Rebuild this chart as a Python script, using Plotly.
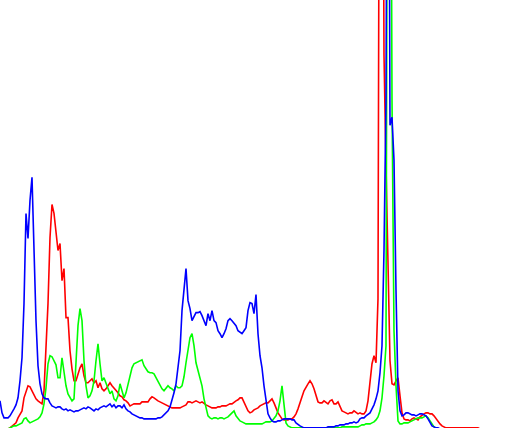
import plotly.graph_objects as go

bins = list(range(256))

red = ([0]*5 + [1, 3, 4, 6, 11, 15, 18, 31, 38, 43, 42, 38, 33, 30, 28, 26, 25, 38, 78, 125,
        191, 224, 215, 196, 178, 185, 148, 160, 111, 111, 78, 60, 48, 48, 56, 61, 65, 53, 46, 46,
        48, 50, 46, 48, 41, 46, 40, 38, 40, 43, 46, 43, 41, 38, 36, 33, 32, 29, 28, 26,
        23, 24, 25, 25, 25, 25, 27, 27, 27, 27, 30, 32, 31, 29, 28, 27, 26, 25, 24, 23,
        22] + [21]*5 + [22, 23, 24, 27, 27, 26, 27, 28, 27, 26, 27, 25, 24, 23, 22, 21, 21, 21, 22,
        22, 23, 23, 23, 24, 25, 25, 27, 28, 29, 31, 31, 27, 22, 18, 16, 17, 19, 20, 21,
        23, 24, 25, 26, 26, 28, 30, 26, 20, 16, 13, 10, 9, 9, 9, 10, 10, 12, 15, 20,
        25, 32, 38, 42, 45, 48, 45, 40, 32, 27, 26, 26, 28, 26, 25, 28, 29, 25, 25, 27,
        23, 18, 17, 16, 15, 16, 16, 18, 16, 15, 16, 15, 15, 18, 28, 45, 65, 73, 66, 130,
        900, 900, 373, 263, 153, 68, 45, 44, 48, 51, 33, 16, 10, 9, 9, 8, 10, 11, 10, 9,
        12, 14, 15, 16, 16, 15, 15, 13, 10, 7, 5, 3, 2] + [1]*17 + [0]*16)

green = ([0]*5 + [1, 2, 3, 3, 4, 5, 6, 10, 11, 8, 6, 7, 8, 9, 10, 12, 16, 25, 41, 65,
          73, 72, 68, 64, 51, 51, 71, 55, 43, 35, 31, 28, 30, 68, 103, 120, 108, 68, 43, 31,
          33, 38, 48, 68, 85, 65, 48, 51, 46, 41, 35, 38, 30, 28, 33, 45, 38, 31, 36, 45,
          53, 61, 65, 66, 67, 68, 69, 63, 60, 57, 56, 56, 55, 51, 48, 43, 40, 38, 41, 43,
          41, 40, 38, 43, 41, 41, 43, 52, 66, 78, 91, 95, 83, 66, 58, 53, 43, 30, 20, 13,
          11, 10, 11, 11, 10, 11, 11, 10, 11, 12, 14, 16, 18, 13, 10, 8, 7, 6] + [5]*9 +
         [6, 7, 7, 7, 8, 10, 13, 18, 28, 43, 23, 6, 3, 2] + [1]*25 + [2]*9 +
         [3, 4, 4, 5, 5, 5, 6, 7, 9, 12, 18, 31, 53, 83, 900, 900, 328, 98, 43, 8,
          5, 5, 6, 6, 6, 7, 8, 9, 10, 11, 11, 11, 12, 13, 11, 8, 5, 2, 1] + [0]*37)

blue = ([28, 16, 11, 11, 11, 13, 16, 20, 24, 31, 48, 71, 125, 215, 190, 228, 251, 178, 108, 63,
         45, 35, 31, 30, 30, 26, 23, 22, 21, 22, 22, 20, 19, 20, 18, 19, 18, 17, 18, 18,
         19, 20, 21, 20, 22, 21, 19, 18, 20, 19, 21, 22, 23, 22, 24, 25, 22, 24, 21, 23,
         23, 21, 24, 20, 18, 17, 15, 14, 13, 12, 11, 11] + [10]*7 +
        [11, 11, 12, 14, 16, 18, 22, 28, 36, 45, 63, 78, 118, 143, 160, 128, 120, 108, 112, 116,
         116, 117, 113, 108, 103, 115, 108, 118, 108, 106, 98, 95, 91, 95, 100, 108, 110, 108, 106, 103,
         98, 96, 95, 98, 101, 118, 126, 125, 115, 134, 95, 73, 61, 43, 28, 15, 11, 8, 7, 7,
         8, 8, 9, 10, 10, 10, 10, 9, 9, 6, 4, 3, 2] + [1]*12 + [2]*4 +
        [3, 3, 4, 4, 4, 5, 5, 6, 6, 7, 6, 7, 10, 11, 11, 13, 15, 16, 20, 24,
         30, 38, 56, 83, 178, 328, 900, 303, 311, 268, 138, 38, 18, 13, 14, 16, 16, 15, 14, 14,
         13, 14, 15, 15, 14, 13, 10, 7, 3, 2, 1, 1] + [0]*36)

assert len(red) == 256 and len(green) == 256 and len(blue) == 256, (len(red), len(green), len(blue))

fig = go.Figure()
for name, vals, col in [("red", red, "rgb(255,0,0)"),
                        ("green", green, "rgb(0,255,0)"),
                        ("blue", blue, "rgb(0,0,255)")]:
    fig.add_trace(go.Scatter(x=bins, y=vals, mode="lines", name=name,
                             line=dict(color=col, width=1.6), hoverinfo="skip"))

fig.update_layout(
    width=512, height=428,
    margin=dict(l=0, r=0, t=0, b=0),
    paper_bgcolor="white", plot_bgcolor="white",
    showlegend=False,
    xaxis=dict(visible=False, range=[0, 256], fixedrange=True),
    yaxis=dict(visible=False, range=[0.9, 428], fixedrange=True),
)
fig.write_html("out.html", config={"displayModeBar": False},
               post_script="document.body.style.margin='0';document.body.style.overflow='hidden';")
